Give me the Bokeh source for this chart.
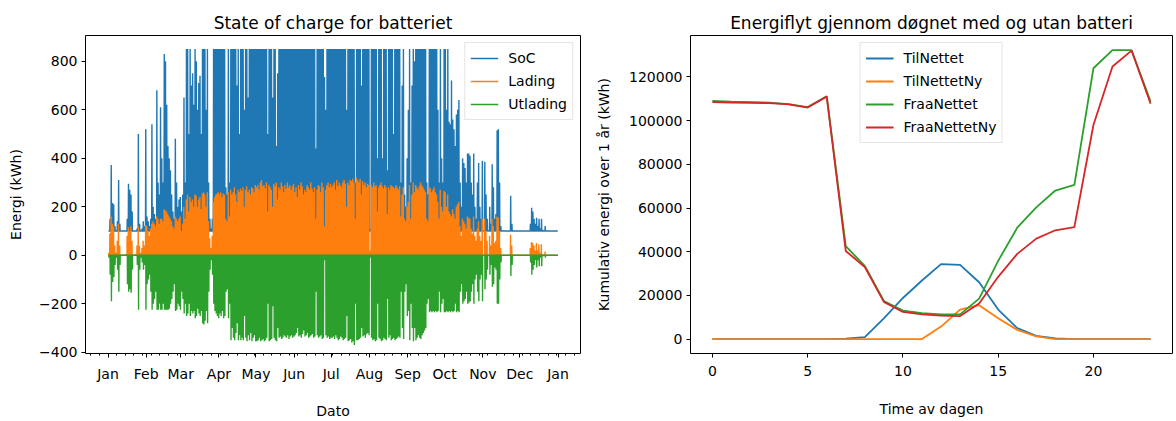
import numpy as np
from bokeh.plotting import figure
from bokeh.layouts import row
from bokeh.models import FixedTicker, Range1d, BasicTickFormatter
from bokeh.embed import file_html
from bokeh.resources import INLINE

FONT = "DejaVu Sans"
BLUE, ORANGE, GREEN, RED = "#1f77b4", "#ff7f0e", "#2ca02c", "#d62728"

# ---------------- Left chart: daily peaks ----------------
# SoC (kWh) daily peak; 100 = minimum state of charge (no charging that day)
SOC_BASE = 100
SOC_PEAK = (
    [100, 150, 372, 215, 210, 120, 100, 140, 310, 130, 100, 100, 100, 100, 100, 150,
     295, 270, 250, 180, 100, 100, 100, 110, 500, 130, 100, 110, 140, 120, 520]          # Jan
  + [160, 140, 120, 150, 540, 200, 170, 150, 680, 300, 250, 610, 400, 300, 830, 800,
     620, 450, 400, 350, 250, 180, 150, 480, 300, 200, 230, 240]                         # Feb
  + [180, 250, 650, 300, 850, 850, 500, 850, 700, 750, 620, 850, 800, 600, 710, 740,
     500, 850, 850, 850, 600, 850, 300, 150, 110, 150, 850, 850, 850, 850, 850]          # Mar
  + [850, 850, 850, 850, 850, 280, 250, 850, 300, 850, 850, 850, 850, 850, 700, 850,
     500, 850, 850, 850, 600, 850, 850, 650, 850, 850, 850, 850, 850, 850]               # Apr
  + [850, 850, 850, 850, 850, 850, 850, 850, 850, 500, 850, 850, 850, 650, 850, 850,
     450, 750, 850, 850, 850, 850, 850, 850, 850, 850, 850, 850, 850, 850, 850]          # May
  + [850, 850, 850, 850, 850, 850, 850, 850, 850, 850, 850, 850, 850, 850, 850, 850,
     850, 440, 850, 850, 850, 850, 850, 850, 735, 600, 850, 850, 850, 850]               # Jun
  + [850, 850, 850, 850, 850, 850, 850, 850, 850, 850, 850, 850, 600, 850, 850, 850,
     850, 850, 850, 300, 850, 850, 850, 850, 700, 850, 850, 850, 850, 850, 850]          # Jul
  + [110, 850, 850, 850, 850, 850, 400, 850, 850, 850, 400, 850, 850, 850, 350, 850,
     850, 850, 850, 500, 850, 850, 850, 850, 850, 300, 700, 850, 250, 200, 400]          # Aug
  + [600, 850, 300, 700, 850, 800, 850, 850, 850, 850, 850, 850, 850, 850, 850, 300,
     250, 850, 850, 850, 850, 850, 850, 850, 600, 300, 850, 400, 300, 850]               # Sep
  + [850, 600, 850, 550, 540, 720, 560, 520, 450, 580, 600, 640, 300, 200, 400, 380,
     360, 300, 420, 420, 410, 300, 250, 420, 200, 150, 300, 380, 200, 150, 390]          # Oct
  + [100, 385, 250, 150, 100, 200, 130, 375, 280, 150, 170, 515, 520, 300, 120, 100,
     100, 100, 100, 100, 100, 100, 245, 130, 100, 100, 100, 100, 100, 100]               # Nov
  + [100, 100, 100, 100, 100, 100, 100, 100, 130, 196, 180, 150, 130, 155, 120, 150,
     110, 150, 105, 100, 120, 100, 100, 100, 100, 100, 100, 100, 100, 100, 100]          # Dec
)

# Lading (charging, kWh/h) daily peak
LADING_PEAK = (
    [10, 90, 160, 130, 120, 40, 10, 60, 130, 40, 0, 0, 0, 0, 5, 80,
     115, 100, 120, 60, 0, 0, 5, 40, 120, 40, 10, 30, 60, 40, 125]                       # Jan
  + [120, 100, 80, 110, 130, 140, 130, 120, 160, 150, 130, 150, 150, 140, 190, 185,
     180, 170, 160, 150, 140, 120, 110, 160, 150, 140, 150, 160]                         # Feb
  + [100, 130, 200, 150, 230, 250, 180, 240, 220, 230, 200, 250, 245, 200, 230, 240,
     190, 255, 260, 250, 200, 260, 140, 70, 30, 80, 220, 240, 250, 255, 260]             # Mar
  + [250, 260, 240, 255, 250, 150, 140, 260, 160, 270, 250, 260, 280, 250, 220, 270,
     260, 275, 265, 280, 200, 270, 285, 260, 270, 250, 280, 275, 260, 290]               # Apr
  + [280, 290, 270, 300, 310, 285, 290, 275, 300, 180, 290, 280, 270, 200, 295, 285,
     300, 230, 280, 270, 300, 285, 260, 290, 275, 300, 280, 290, 270, 285, 295]          # May
  + [260, 280, 240, 290, 270, 300, 285, 250, 270, 260, 290, 280, 270, 300, 275, 260,
     280, 150, 270, 290, 285, 260, 300, 280, 120, 270, 290, 300, 280, 295]               # Jun
  + [280, 290, 300, 270, 310, 285, 300, 290, 280, 300, 310, 295, 200, 300, 290, 310,
     305, 315, 300, 150, 320, 310, 300, 315, 250, 305, 290, 300, 280, 295, 290]          # Jul
  + [20, 290, 280, 300, 285, 290, 180, 280, 290, 300, 285, 275, 290, 280, 170, 280,
     270, 290, 285, 280, 275, 290, 280, 270, 285, 160, 250, 280, 150, 140, 200]          # Aug
  + [220, 290, 150, 250, 300, 260, 290, 280, 270, 285, 300, 290, 280, 270, 260, 150,
     140, 280, 275, 260, 270, 280, 260, 250, 220, 150, 270, 200, 180, 265]               # Sep
  + [260, 200, 250, 180, 170, 160, 190, 170, 150, 200, 210, 220, 120, 80, 150, 140,
     130, 110, 160, 155, 150, 110, 90, 160, 80, 60, 110, 140, 80, 60, 150]               # Oct
  + [0, 150, 100, 60, 0, 80, 40, 150, 120, 50, 60, 160, 155, 100, 30, 0,
     0, 0, 0, 0, 0, 0, 85, 40, 0, 0, 0, 0, 0, 0]                                         # Nov
  + [0, 0, 0, 0, 0, 0, 0, 0, 30, 55, 50, 40, 20, 50, 20, 45,
     10, 45, 5, 0, 15, 0, 0, 0, 0, 0, 0, 0, 0, 0, 0]                                     # Dec
)

# Utlading (discharging, kWh/h) daily minimum
UTLADING_MIN = (
    [-10, -80, -190, -110, -90, -40, -10, -60, -150, -40, 0, 0, 0, 0, 0, -120,
     -150, -140, -155, -60, 0, 0, 0, -40, -225, -60, -10, -30, -60, -40, -225]           # Jan
  + [-120, -100, -80, -150, -225, -200, -180, -150, -225, -225, -200, -225, -225, -200, -225, -225,
     -225, -225, -220, -200, -180, -150, -120, -230, -225, -200, -210, -225]             # Feb
  + [-150, -180, -240, -200, -250, -240, -200, -250, -230, -240, -230, -260, -250, -220, -240, -250,
     -230, -280, -285, -270, -230, -280, -150, -60, -20, -80, -200, -230, -240, -250, -260]  # Mar
  + [-240, -250, -230, -260, -250, -150, -140, -260, -200, -350, -300, -340, -350, -320, -280, -350,
     -330, -350, -340, -350, -250, -340, -355, -330, -350, -320, -355, -340, -330, -355]  # Apr
  + [-355, -350, -340, -355, -350, -345, -355, -350, -340, -200, -355, -350, -345, -210, -340, -350,
     -355, -300, -340, -335, -345, -340, -330, -335, -340, -330, -345, -335, -330, -340, -335]  # May
  + [-330, -320, -300, -335, -330, -340, -325, -310, -335, -330, -320, -340, -335, -330, -325, -340,
     -335, -150, -330, -340, -335, -330, -345, -340, -20, -330, -340, -335, -345, -340]  # Jun
  + [-340, -335, -345, -330, -340, -350, -345, -335, -340, -350, -345, -340, -250, -355, -350, -345,
     -360, -355, -370, -200, -350, -350, -345, -340, -300, -335, -330, -340, -325, -320, -330]  # Jul
  + [-10, -340, -350, -345, -355, -350, -200, -340, -345, -355, -350, -340, -345, -350, -180, -340,
     -330, -350, -345, -340, -350, -345, -340, -335, -340, -150, -300, -345, -150, -120, -250]  # Aug
  + [-230, -350, -200, -300, -355, -300, -350, -340, -330, -340, -345, -330, -320, -310, -300, -200,
     -180, -235, -230, -235, -230, -235, -230, -235, -230, -150, -235, -200, -180, -235]  # Sep
  + [-235, -230, -235, -230, -235, -230, -235, -230, -200, -235, -230, -235, -150, -120, -200, -190,
     -180, -150, -200, -195, -190, -150, -120, -200, -100, -80, -150, -190, -100, -80, -190]  # Oct
  + [0, -140, -100, -60, 0, -80, -40, -130, -120, -50, -60, -200, -200, -100, -30, 0,
     0, 0, 0, 0, 0, 0, -85, -40, 0, 0, 0, 0, 0, 0]                                       # Nov
  + [0, 0, 0, 0, 0, 0, 0, 0, -30, -80, -60, -40, -20, -50, -20, -45,
     -10, -45, -5, 0, -10, 0, 0, 0, 0, 0, 0, 0, 0, 0, 0]                                 # Dec
)

MONTH_STARTS = [0, 31, 59, 90, 120, 151, 181, 212, 243, 273, 304, 334, 365]
MONTH_LABELS = ["Jan", "Feb", "Mar", "Apr", "May", "Jun", "Jul", "Aug",
                "Sep", "Oct", "Nov", "Dec", "Jan"]
LEFT_Y_TICKS = [-400, -200, 0, 200, 400, 600, 800]

# ---------------- Right chart: hourly totals over one year ----------------
HOURS = list(range(24))
TIL_NETTET = [0, 0, 0, 0, 0, 0, 0, 200, 900, 9500, 18800, 26800, 34300, 34000,
              26000, 13500, 5000, 1500, 300, 0, 0, 0, 0, 0]
TIL_NETTET_NY = [0, 0, 0, 0, 0, 0, 0, 0, 0, 0, 0, 0, 5700, 13500,
                 15500, 9500, 4200, 1200, 0, 0, 0, 0, 0, 0]
FRAA_NETTET = [109000, 108700, 108500, 108300, 107600, 106200, 111200, 42500,
               33500, 17400, 13000, 11900, 11300, 11300, 18500, 35800, 51000,
               60300, 68000, 70600, 124000, 132300, 132300, 108800]
FRAA_NETTET_NY = [108500, 108300, 108200, 108000, 107500, 106000, 111000, 40300,
                  33000, 17000, 12400, 11300, 10700, 10500, 16300, 28500, 39000,
                  46000, 49800, 51300, 98000, 124800, 132100, 107800]
RIGHT_X_TICKS = [0, 5, 10, 15, 20]
RIGHT_Y_TICKS = [0, 20000, 40000, 60000, 80000, 100000, 120000]


def daily_spikes(values, base, h_start, h_peak, h_end):
    """One rise-and-fall per day: base at h_start, value at h_peak, base at h_end."""
    v = np.asarray(values, dtype=float)
    d = np.arange(len(v), dtype=float)
    b = np.full_like(v, base)
    xs = np.column_stack([d + h_start / 24, d + h_peak / 24, d + h_end / 24]).ravel()
    ys = np.column_stack([b, v, b]).ravel()
    return xs, ys


def style(p):
    p.title.text_font = FONT
    p.title.text_font_size = "17px"
    p.title.text_font_style = "normal"
    p.title.align = "center"
    p.title.text_color = "black"
    p.title.standoff = 6
    p.grid.visible = False
    p.outline_line_color = "black"
    p.outline_line_width = 1
    p.background_fill_color = "white"
    p.border_fill_color = "white"
    for ax in (p.xaxis[0], p.yaxis[0]):
        ax.axis_line_color = None
        ax.major_tick_line_color = "black"
        ax.minor_tick_line_color = "black"
        ax.major_tick_out = 4
        ax.major_tick_in = 0
        ax.minor_tick_out = 2
        ax.minor_tick_in = 0
        ax.major_label_text_font = FONT
        ax.major_label_text_font_size = "14px"
        ax.major_label_text_color = "black"
        ax.axis_label_text_font = FONT
        ax.axis_label_text_font_size = "14px"
        ax.axis_label_text_font_style = "normal"
        ax.axis_label_text_color = "black"
    p.xaxis.major_label_standoff = 8
    p.yaxis.major_label_standoff = 4


def style_legend(lg):
    lg.label_text_font = FONT
    lg.label_text_font_size = "14px"
    lg.label_text_color = "black"
    lg.border_line_color = "#cccccc"
    lg.border_line_width = 1
    lg.background_fill_alpha = 0.8
    lg.glyph_width = 28
    lg.glyph_height = 20
    lg.label_height = 20
    lg.label_standoff = 10
    lg.spacing = 3
    lg.padding = 5
    lg.margin = 7


# ---------------- Left figure ----------------
p1 = figure(width=590, height=421, output_backend="svg", toolbar_location=None,
            x_range=Range1d(-18.25, 383.25), y_range=Range1d(-405, 906),
            min_border_left=85, min_border_right=10, min_border_top=35,
            min_border_bottom=64, title="State of charge for batteriet")

sx, sy = daily_spikes(SOC_PEAK, SOC_BASE, 10, 15, 20)
lx, ly = daily_spikes(LADING_PEAK, 0, 9, 12, 15)
ux, uy = daily_spikes(UTLADING_MIN, 0, 16, 19, 22)
p1.line(sx, sy, color=BLUE, line_width=1.4, legend_label="SoC")
p1.line(lx, ly, color=ORANGE, line_width=1.4, legend_label="Lading")
p1.line(ux, uy, color=GREEN, line_width=1.4, legend_label="Utlading")

style(p1)
p1.xaxis.ticker = FixedTicker(ticks=MONTH_STARTS, minor_ticks=list(range(-14, 384, 7)))
p1.xaxis.major_label_overrides = {s: l for s, l in zip(MONTH_STARTS, MONTH_LABELS)}
p1.yaxis.ticker = FixedTicker(ticks=LEFT_Y_TICKS, minor_ticks=[])
p1.yaxis.major_label_overrides = {t: str(t).replace("-", "\u2212") for t in LEFT_Y_TICKS}
p1.yaxis.axis_label_standoff = 12
p1.xaxis.axis_label_standoff = 18
p1.xaxis.axis_label = "Dato"
p1.yaxis.axis_label = "Energi (kWh)"
p1.legend.location = "top_right"
style_legend(p1.legend[0])

# ---------------- Right figure ----------------
p2 = figure(width=586, height=421, output_backend="svg", toolbar_location=None,
            x_range=Range1d(-1.15, 24.15), y_range=Range1d(-6620, 139000),
            min_border_left=100, min_border_right=4, min_border_top=35,
            min_border_bottom=64,
            title="Energiflyt gjennom døgnet med og utan batteri")
p2.line(HOURS, TIL_NETTET, color=BLUE, line_width=1.8, legend_label="TilNettet")
p2.line(HOURS, TIL_NETTET_NY, color=ORANGE, line_width=1.8, legend_label="TilNettetNy")
p2.line(HOURS, FRAA_NETTET, color=GREEN, line_width=1.8, legend_label="FraaNettet")
p2.line(HOURS, FRAA_NETTET_NY, color=RED, line_width=1.8, legend_label="FraaNettetNy")

style(p2)
p2.xaxis.ticker = FixedTicker(ticks=RIGHT_X_TICKS, minor_ticks=[])
p2.yaxis.ticker = FixedTicker(ticks=RIGHT_Y_TICKS, minor_ticks=[])
p2.yaxis.formatter = BasicTickFormatter(use_scientific=False)
p2.yaxis.axis_label_standoff = 14
p2.xaxis.axis_label_standoff = 22
p2.xaxis.axis_label = "Time av dagen"
p2.yaxis.axis_label = "Kumulativ energi over 1 år (kWh)"
p2.legend.location = "top_center"
style_legend(p2.legend[0])

layout = row(p1, p2)
open("out.html", "w").write(file_html(layout, INLINE))
